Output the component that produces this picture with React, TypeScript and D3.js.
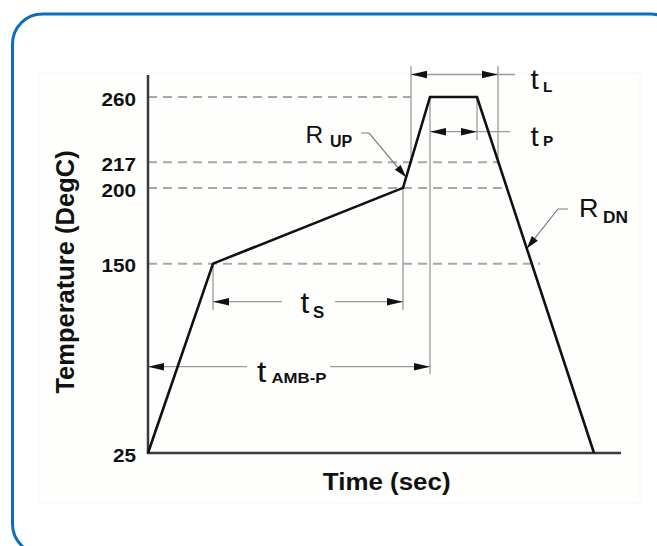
import React from "react";
import * as d3 from "d3";

// Reflow profile (time in arbitrary seconds, temperature in DegC)
const profileTimes = [0, 65, 255, 282, 329, 446];
const profileTemps = [25, 150, 200, 260, 260, 25];
const tempTicks = [25, 150, 200, 217, 260];
const dashedLevels = [150, 200, 217, 260];
const dashedEnds = [392, 357, 350, 263];
const liquidusUp = 263;
const liquidusDown = 350;

const W = 657;
const H = 546;
const FONT = "'Liberation Sans', Arial, Helvetica, sans-serif";

const x = d3.scaleLinear().domain([0, 473]).range([148, 621]);
const y = d3.scaleLinear().domain([25, 260]).range([453, 97]);

const GRAY = "#9a9a9a";

function Arrow({ tx, ty, dx, dy, len = 16, w = 3.8 }: any) {
  const m = Math.hypot(dx, dy);
  const ux = dx / m, uy = dy / m;
  const nx = -uy, ny = ux;
  const bx = tx - ux * len, by = ty - uy * len;
  const pts = [
    [tx, ty],
    [bx + nx * w, by + ny * w],
    [bx - nx * w, by - ny * w],
  ];
  return <polygon points={pts.map((p) => p.join(",")).join(" ")} fill="#111" />;
}

function Label({ x0, y0, main, sub, subX, subY, mainSize, subSize, sx = 1 }: any) {
  return (
    <g fontFamily={FONT} fill="#111">
      <text transform={`translate(${x0},${y0}) scale(${sx},1)`} fontSize={mainSize}>
        {main}
      </text>
      <text transform={`translate(${subX},${subY}) scale(${sx},1)`} fontSize={subSize} fontWeight="bold">
        {sub}
      </text>
    </g>
  );
}

export default function App() {
  const line = d3
    .line<number>()
    .x((_, i) => x(profileTimes[i]))
    .y((d) => y(d));

  // point on the up-ramp (200 -> 260) at 207 C for the R_UP arrow
  const upT = profileTimes[2] + ((207 - 200) / 60) * (profileTimes[3] - profileTimes[2]);
  const upTip = [x(upT), y(207)];
  // point on the down-ramp at 160 C for the R_DN arrow
  const dnT = profileTimes[4] + ((260 - 160) / 235) * (profileTimes[5] - profileTimes[4]);
  const dnTip = [x(dnT), y(160)];

  const yTL = 74.5;
  const yTP = 131.7;
  const yTS = 301.7;
  const yTA = 366.7;

  return (
    <svg width={W} height={H} style={{ position: "fixed", left: 0, top: 0 }}>
      <rect x={0} y={0} width={W} height={H} fill="#fff" />
      <rect x={12.5} y={14} width={668} height={540} rx={30} ry={30} fill="#fff" stroke="#0b6dbb" strokeWidth={3} />
      <rect x={39} y={73} width={601} height={430} fill="#fefefd" stroke="#f6f6f3" strokeWidth={1} />

      {/* dashed levels */}
      {dashedLevels.map((lv, i) => (
        <line
          key={lv}
          x1={x(0)}
          x2={x(dashedEnds[i])}
          y1={y(lv)}
          y2={y(lv)}
          stroke="#a8a8a8"
          strokeWidth={2}
          strokeDasharray="9,6"
        />
      ))}

      {/* extension lines */}
      <g stroke={GRAY} strokeWidth={1.3}>
        <line x1={x(profileTimes[1])} x2={x(profileTimes[1])} y1={y(150)} y2={310} />
        <line x1={x(profileTimes[2])} x2={x(profileTimes[2])} y1={y(200)} y2={310} />
        <line x1={x(liquidusUp)} x2={x(liquidusUp)} y1={66} y2={y(217)} />
        <line x1={x(liquidusDown)} x2={x(liquidusDown)} y1={66} y2={y(217)} />
        <line x1={x(profileTimes[3])} x2={x(profileTimes[3])} y1={y(260)} y2={374} />
        <line x1={x(profileTimes[4])} x2={x(profileTimes[4])} y1={y(260)} y2={140} />
        {/* dimension lines */}
        <line x1={x(liquidusUp)} x2={515} y1={yTL} y2={yTL} />
        <line x1={x(profileTimes[3])} x2={510} y1={yTP} y2={yTP} />
        <line x1={x(profileTimes[1])} x2={282} y1={yTS} y2={yTS} />
        <line x1={335} x2={x(profileTimes[2])} y1={yTS} y2={yTS} />
        <line x1={x(0)} x2={247} y1={yTA} y2={yTA} />
        <line x1={330} x2={x(profileTimes[3])} y1={yTA} y2={yTA} />
      </g>
      <g stroke="#7a7a7a" strokeWidth={1.2} fill="none">
        <polyline points={`361,133 369,133 ${upTip[0]},${upTip[1]}`} />
        <polyline points={`568,209 558,209 ${dnTip[0]},${dnTip[1]}`} />
      </g>

      {/* arrowheads */}
      <Arrow tx={x(liquidusUp)} ty={yTL} dx={-1} dy={0} />
      <Arrow tx={x(liquidusDown)} ty={yTL} dx={1} dy={0} />
      <Arrow tx={x(profileTimes[3])} ty={yTP} dx={-1} dy={0} />
      <Arrow tx={x(profileTimes[4])} ty={yTP} dx={1} dy={0} />
      <Arrow tx={x(profileTimes[1])} ty={yTS} dx={-1} dy={0} />
      <Arrow tx={x(profileTimes[2])} ty={yTS} dx={1} dy={0} />
      <Arrow tx={x(0)} ty={yTA} dx={-1} dy={0} />
      <Arrow tx={x(profileTimes[3])} ty={yTA} dx={1} dy={0} />
      <Arrow tx={upTip[0]} ty={upTip[1]} dx={upTip[0] - 369} dy={upTip[1] - 133} len={13} w={3.8} />
      <Arrow tx={dnTip[0]} ty={dnTip[1]} dx={dnTip[0] - 558} dy={dnTip[1] - 209} len={13} w={3.8} />

      {/* axes */}
      <g stroke="#3a3a3a" strokeWidth={2.5}>
        <line x1={x(0)} x2={x(0)} y1={75} y2={y(25) + 1} />
        <line x1={x(0) - 1} x2={x(473)} y1={y(25)} y2={y(25)} />
      </g>

      {/* profile */}
      <path d={line(profileTemps) || ""} fill="none" stroke="#111" strokeWidth={2.6} strokeLinejoin="miter" />

      {/* tick labels */}
      <g fontFamily={FONT} fontWeight="bold" fontSize={18.5} fill="#111" textAnchor="end">
        {tempTicks.map((t) => (
          <text key={t} transform={`translate(136,${y(t) + 8.8}) scale(1.12,1)`}>
            {t}
          </text>
        ))}
      </g>

      {/* annotations */}
      <Label x0={530.5} y0={88.5} main="t" sub="L" subX={543} subY={92.3} mainSize={27} subSize={14} sx={1.1} />
      <Label x0={530.5} y0={146} main="t" sub="P" subX={543} subY={146} mainSize={27} subSize={14} sx={1.1} />
      <Label x0={300.5} y0={313} main="t" sub="S" subX={313} subY={318} mainSize={30} subSize={16} sx={1.05} />
      <Label x0={257} y0={382} main="t" sub="AMB-P" subX={271.5} subY={383} mainSize={30} subSize={15} sx={1.12} />
      <Label x0={305.5} y0={142.7} main="R" sub="UP" subX={330} subY={146.7} mainSize={24.5} subSize={16} />
      <Label x0={579} y0={217.3} main="R" sub="DN" subX={603} subY={222.7} mainSize={25} subSize={16} sx={1.08} />

      {/* axis titles */}
      <text
        transform="translate(74,272) rotate(-90)"
        textAnchor="middle"
        fontFamily={FONT}
        fontWeight="bold"
        fontSize={25.5}
        fill="#111"
      >
        Temperature (DegC)
      </text>
      <text
        transform="translate(386.7,490) scale(1.08,1)"
        textAnchor="middle"
        fontFamily={FONT}
        fontWeight="bold"
        fontSize={24}
        fill="#111"
      >
        Time (sec)
      </text>
    </svg>
  );
}
